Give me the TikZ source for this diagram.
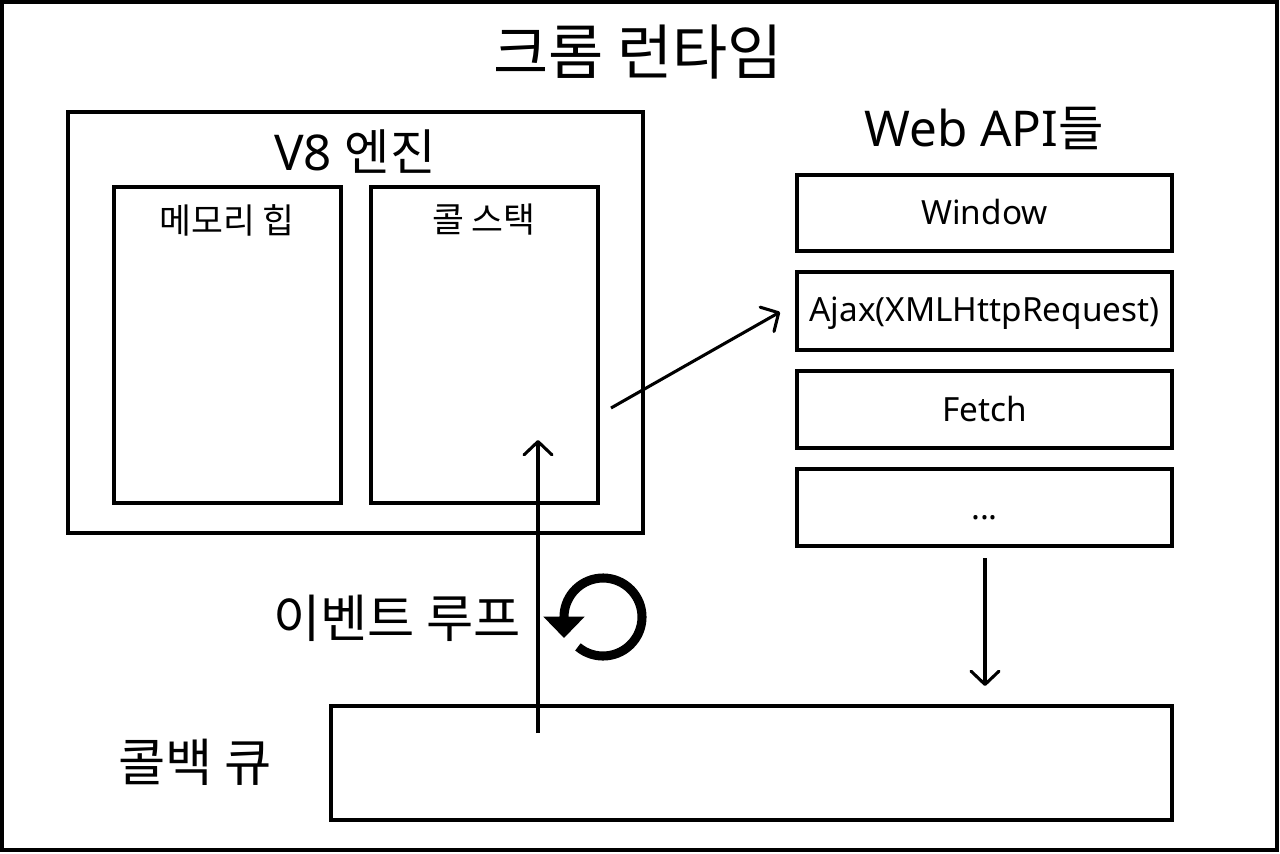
\documentclass[tikz,border=0pt]{standalone}
\usepackage{fontspec}
\setmainfont{Noto Sans}
\newfontfamily\kr{Noto Sans CJK KR}
\usetikzlibrary{arrows.meta,fit}
\begin{document}
\begin{tikzpicture}[x=0.75pt,y=-0.75pt,
  box/.style={draw, line width=2.6pt, inner sep=0pt},
  arr/.style={line width=2.3pt, -{Straight Barb[length=10pt,width=21pt,round]}},
  lbl/.style={inner sep=0pt, anchor=center},
  big/.style={font=\kr\fontsize{45}{45}\selectfont},
  mid/.style={font=\kr\fontsize{38.5}{38.5}\selectfont},
  small/.style={font=\kr\fontsize{26}{26}\selectfont},
  head/.style={font=\fontsize{37}{37}\selectfont},
  apitxt/.style={inner sep=0pt, anchor=base, font=\fontsize{25}{25}\selectfont}]
\fill[white] (0,0) rectangle (1280,853);
\useasboundingbox (0,0) rectangle (1280,853);
\node[box, line width=3pt, fit={(2,2)(1277,850)}] (frame) {};
\node[lbl, big] (title) at (638,52) {크롬 런타임};
% V8 engine
\node[box, fit={(68,112)(643,533)}] (v8) {};
\node[lbl, head] (v8t) at (355,152) {V8 {\kr\fontsize{37}{37}\selectfont 엔진}};
\node[box, fit={(114,187)(341,503)}] (heap) {};
\node[lbl, small] (heapt) at (227,220) {메모리 힙};
\node[box, fit={(371,187)(598,503)}] (stack) {};
\node[lbl, small] (stackt) at (484,220) {콜 스택};
% Web APIs
\node[lbl, head] (apit) at (984,128) {Web API{\kr\fontsize{37}{37}\selectfont 들}};
\node[box, fit={(797,175)(1172,251)}] (win) {};
\node[apitxt] (wint) at ([shift={(0,11)}]win.center) {Window};
\node[box, fit={(797,272)(1172,350)}] (ajax) {};
\node[apitxt] (ajaxt) at ([shift={(0,10)}]ajax.center) {Ajax(XMLHttpRequest)};
\node[box, fit={(797,371)(1172,448)}] (fetch) {};
\node[apitxt] (fetcht) at ([shift={(0,12)}]fetch.center) {Fetch};
\node[box, fit={(797,469)(1172,546)}] (more) {};
\node[apitxt] (moret) at ([shift={(0,12)}]more.center) {...};
% callback queue
\node[box, fit={(331,706)(1172,820)}] (queue) {};
\node[lbl, mid] (queuet) at (195,762) {콜백 큐};
% event loop
\node[lbl, mid] (loopt) at (397,618) {이벤트 루프};
\coordinate (loopS) at (538,733);
\coordinate (loopE) at (538,440);
\draw[arr] (loopS) -- (loopE);
\coordinate (callS) at (611,408);
\coordinate (callE) at (780,312);
\draw[arr] (callS) -- (callE);
\coordinate (apiS) at (985,558);
\coordinate (apiE) at (985,686);
\draw[arr] (apiS) -- (apiE);
\coordinate (loopc) at (603,617);
\draw[line width=6.8pt, -{Triangle[width=30pt,length=16pt]}]
  (loopc) ++(130:39) arc[start angle=130, end angle=-180, radius=39] -- ++(0,21);
\end{tikzpicture}
\end{document}
